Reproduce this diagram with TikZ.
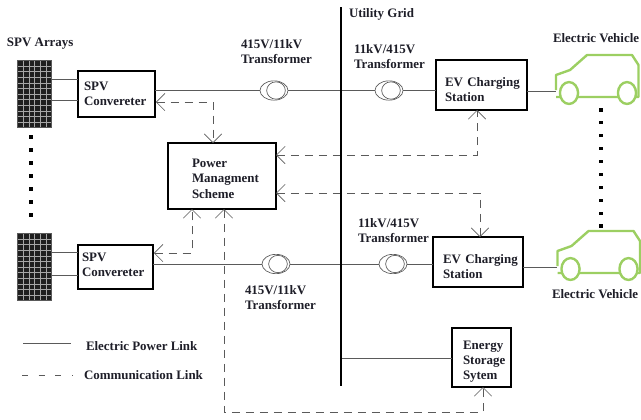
\documentclass[tikz,border=0pt]{standalone}
\usepackage{fontspec}
\setmainfont{Liberation Serif}
\usetikzlibrary{arrows.meta,shapes.geometric,calc}
\definecolor{evgreen}{HTML}{9CCF62}
\definecolor{wire}{HTML}{5A5A5A}
\definecolor{ink}{HTML}{1E1E28}
\newcommand{\lowr}{\rule{0pt}{13pt}}
\tikzset{
  x=0.75pt,y=-0.75pt,
  txt/.style={font=\fontsize{9.7}{11.4}\selectfont\bfseries,text=ink,inner sep=0pt,outer sep=0pt},
  lab/.style={txt,anchor=west,align=left},
  boxn/.style={txt,draw=black,line width=1.6pt,fill=white,anchor=north west,minimum height=#1,inner ysep=0pt,align=left},
  xfmr/.style={ellipse,draw=wire,line width=0.5pt,fill=white,minimum width=21pt,minimum height=14.5pt,inner sep=0pt},
  xfmrin/.style={ellipse,draw=wire,line width=0.5pt,minimum width=14pt,minimum height=13pt,inner sep=0pt},
  power/.style={draw=wire,line width=0.75pt},
  comm/.style={draw=wire,line width=0.6pt,dash pattern=on 6pt off 4.5pt},
  barbs/.style={{Straight Barb[length=6.5pt,width=13pt,line width=0.5pt]}-{Straight Barb[length=6.5pt,width=13pt,line width=0.5pt]}},
  panel/.style={draw=wire,line width=0.6pt,fill=black!88,minimum width=25.5pt,minimum height=50.5pt,inner sep=0pt,anchor=north west,
    path picture={
      \foreach \i in {1,...,5}{\draw[white!65!black,line width=0.3pt] ($(path picture bounding box.south west)!\i/6!(path picture bounding box.south east)$) -- ($(path picture bounding box.north west)!\i/6!(path picture bounding box.north east)$);}
      \foreach \i in {1,...,11}{\draw[white!65!black,line width=0.3pt] ($(path picture bounding box.south west)!\i/12!(path picture bounding box.north west)$) -- ($(path picture bounding box.south east)!\i/12!(path picture bounding box.north east)$);}
    }},
  dotn/.style={fill=black,minimum size=2.3pt,inner sep=0pt,outer sep=0pt},
  bus/.style={draw=black,line width=2.2pt},
  carline/.style={draw=evgreen,line width=1.8pt,line join=round}
}
\newcommand{\carshape}[2]{%
  \begin{scope}[shift={(#1,#2)}]
    \draw[carline] (0,35) -- (0,20) -- (14,15) -- (31,0) -- (76,0) -- (82.5,10) -- (82.5,42) -- (0,42);
    \draw[carline,fill=white] (13,38) ellipse (6.8pt and 8.2pt);
    \draw[carline,fill=white] (71,38) ellipse (6.8pt and 8.2pt);
  \end{scope}}
\begin{document}
\begin{tikzpicture}
\useasboundingbox (0,0) rectangle (641,419);
% bus
\coordinate (gridtop) at (341,7);
\coordinate (gridbot) at (341,386);
% panels
\node[panel] (p1) at (17,60) {};
\node[panel] (p2) at (17,233) {};
% boxes
\node[boxn=34.5pt,minimum width=57.75pt,inner xsep=4.5pt,text width=48.75pt] (s1) at (78,71) {SPV\\Convereter};
\node[boxn=33pt,minimum width=56.25pt,inner xsep=3pt,text width=50.25pt] (s2) at (78,245) {SPV\\Convereter\rule[-3pt]{0pt}{0pt}};
\node[boxn=37.5pt,minimum width=68.25pt,inner xsep=6.75pt,text width=54.75pt] (e1) at (436,60) {\lowr\mbox{EV Charging}\\Station};
\node[boxn=37.5pt,minimum width=67.5pt,inner xsep=7.5pt,text width=52.5pt] (e2) at (433,237) {\lowr\mbox{EV Charging}\\Station};
\node[boxn=49.5pt,minimum width=81pt,inner xsep=18pt,text width=45pt] (pms) at (168,143) {\rule{0pt}{10.5pt}Power\\Managment\\Scheme};
\node[boxn=44.25pt,minimum width=44.25pt,inner xsep=8.25pt,text width=27.75pt] (ess) at (452,328) {\lowr Energy\\Storage\\Sytem};
% transformers
\node[xfmr] (t1) at (274,90.5) {};
\node[xfmr] (t2) at (389,90.5) {};
\node[xfmr] (t3) at (276,264) {};
\node[xfmr] (t4) at (393,264) {};
\foreach \t in {t1,t2,t3,t4}{\node[xfmrin] (\t i) at ($(\t)+(2,0)$) {};}
% cars
\coordinate (c1) at (556,91);
\coordinate (c2) at (557,267);
% free-end coordinates
\coordinate (j1) at (213,102);
\coordinate (j2) at (477,155);
\coordinate (j3) at (480,193);
\coordinate (j4) at (192,253);
\coordinate (j5) at (224,412);
\coordinate (j6) at (483,412);
\coordinate (s1o) at (155,90.5);
\coordinate (s2o) at (153,264);
% power links
\draw[power] (s1o) -- (t1);
\draw[power] (t1) -- (t2);
\draw[power] (t2) -- (t2 -| e1.west);
\draw[power] (e1.east |- c1) -- (c1);
\draw[power] (s2o) -- (t3);
\draw[power] (t3) -- (t4);
\draw[power] (t4) -- (t4 -| e2.west);
\draw[power] (e2.east |- c2) -- (c2);
\coordinate (q1) at (51,79); \coordinate (q2) at (51,100);
\coordinate (q3) at (51,252); \coordinate (q4) at (51,275);
\draw[power] (q1) -- (q1 -| s1.west);
\draw[power] (q2) -- (q2 -| s1.west);
\draw[power] (q3) -- (q3 -| s2.west);
\draw[power] (q4) -- (q4 -| s2.west);
\coordinate (q5) at (341,358);
\draw[power] (q5) -- (q5 -| ess.west);
% comm links
\coordinate (s1c) at (155.8,102);
\coordinate (s2c) at (153.8,253);
\draw[comm,barbs] (s1c) -- (j1) -- (pms.north -| j1);
\draw[comm,barbs] (pms.east |- j2) -- (j2) -- (j2 |- e1.south);
\draw[comm,barbs] (pms.east |- j3) -- (j3) -- (j3 |- e2.north);
\draw[comm,barbs] (s2c) -- (j4) -- (j4 |- pms.south);
\draw[comm,barbs] (j5 |- pms.south) -- (j5) -- (j6) -- (j6 |- ess.south);
% bus on top
\draw[bus] (gridtop) -- (gridbot);
% cars on top
\carshape{556}{55}
\carshape{557.5}{231}
% dots
\foreach \y in {137,150,163,176,189,202,215}{\node[dotn] at (31,\y) {};}
\foreach \y in {110,122.9,135.8,148.7,161.6,174.5,187.4,200.3,213.2,226}{\node[dotn] at (601,\y) {};}
% labels
\node[lab] (lspv) at (7,44) {SPV Arrays};
\node[lab] (lt1) at (241,51.5) {415V/11kV\\Transformer};
\node[lab] (lug) at (349,14.5) {Utility Grid};
\node[lab] (lt2) at (354,56.5) {11kV/415V\\Transformer};
\node[lab] (lev1) at (553,38) {Electric Vehicle};
\node[lab] (lt3) at (245,297.5) {415V/11kV\\Transformer};
\node[lab] (lt4) at (358,230.5) {11kV/415V\\Transformer};
\node[lab] (lev2) at (552,294) {Electric Vehicle};
% legend
\coordinate (la) at (23,343); \coordinate (lb) at (71,343);
\coordinate (lc) at (22,375); \coordinate (ld) at (73,375);
\draw[power] (la) -- (lb);
\draw[draw=wire,line width=0.6pt,dash pattern=on 4.5pt off 8pt] (lc) -- (ld);
\node[lab] (ll1) at (86,346) {Electric Power Link};
\node[lab] (ll2) at (84,375.5) {Communication Link};
\end{tikzpicture}
\end{document}
